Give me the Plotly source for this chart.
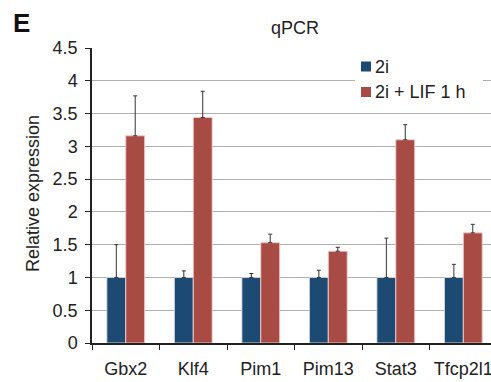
import plotly.graph_objects as go

genes = ["Gbx2", "Klf4", "Pim1", "Pim13", "Stat3", "Tfcp2l1"]
ctrl_vals = [1, 1, 1, 1, 1, 1]
ctrl_err = [0.5, 0.1, 0.06, 0.11, 0.6, 0.2]
lif_vals = [3.16, 3.44, 1.53, 1.40, 3.10, 1.68]
lif_err = [0.61, 0.40, 0.13, 0.06, 0.23, 0.13]
y_ticks = [0, 0.5, 1, 1.5, 2, 2.5, 3, 3.5, 4, 4.5]
series_names = ["2i", "2i + LIF 1 h"]
series_colors = ["#1C4A73", "#A84B45"]

FONT = "Liberation Sans, Arial, sans-serif"
TXT = "#222222"
L, T, W, H = 92, 48, 399, 295


def px(x):
    return (x - L) / W


def py(y):
    return (T + H - y) / H


fig = go.Figure()
fig.add_trace(go.Bar(
    x=genes, y=ctrl_vals, name=series_names[0],
    marker=dict(color=series_colors[0], line=dict(color="rgba(215,220,230,0.9)", width=1)),
    error_y=dict(type="data", array=ctrl_err, arrayminus=[0] * 6, symmetric=False,
                 color="#333333", thickness=1, width=2),
))
fig.add_trace(go.Bar(
    x=genes, y=lif_vals, name=series_names[1],
    marker=dict(color=series_colors[1], line=dict(color="rgba(240,205,205,0.9)", width=1)),
    error_y=dict(type="data", array=lif_err, arrayminus=[0] * 6, symmetric=False,
                 color="#333333", thickness=1, width=2),
))

fig.update_layout(
    width=491, height=382,
    margin=dict(l=L, r=0, t=T, b=382 - T - H, autoexpand=False),
    paper_bgcolor="white", plot_bgcolor="white",
    barmode="group", bargap=0.44, bargroupgap=0,
    font=dict(family=FONT, size=18, color=TXT),
    showlegend=False,
    xaxis=dict(range=[-0.5, 5.41], showline=True, linecolor="#222222", linewidth=1.5,
               ticks="outside", ticklen=5, tickcolor="#222222", tickson="boundaries",
               showgrid=False, automargin=False, ticklabelstandoff=9,
               tickfont=dict(size=18, color=TXT)),
    yaxis=dict(range=[0, 4.5], tickvals=y_ticks,
               ticktext=[("%g" % v) for v in y_ticks],
               showline=True, linecolor="#222222", linewidth=1.5,
               ticks="outside", ticklen=5, tickcolor="#222222",
               showgrid=True, gridcolor="#B0B0B0", gridwidth=1,
               zeroline=False, automargin=False, ticklabelstandoff=4,
               tickfont=dict(size=18, color=TXT)),
)

# legend box (covers gridline like the reference)
fig.add_shape(type="rect", xref="paper", yref="paper", x0=px(355), x1=px(483),
              y0=py(104), y1=py(56), fillcolor="white", line=dict(width=0), layer="above")
for i, (name, col) in enumerate(zip(series_names, series_colors)):
    cy = 66.5 + 25.5 * i
    fig.add_shape(type="rect", xref="paper", yref="paper", x0=px(361), x1=px(371),
                  y0=py(cy + 5), y1=py(cy - 5), fillcolor=col, line=dict(width=0),
                  layer="above")
    fig.add_annotation(text=name, xref="paper", yref="paper", x=px(373), y=py(cy),
                       xanchor="left", yanchor="middle", showarrow=False,
                       font=dict(size=18, color=TXT))

fig.add_annotation(text="Relative expression", xref="paper", yref="paper",
                   x=px(33), y=py(194), xanchor="center", yanchor="middle",
                   textangle=-90, showarrow=False, font=dict(size=18, color=TXT))
fig.add_annotation(text="qPCR", xref="paper", yref="paper", x=px(295),
                   y=py(28), xanchor="center", yanchor="middle",
                   showarrow=False, font=dict(size=18, color=TXT))
fig.add_annotation(text="<b>E</b>", xref="paper", yref="paper", x=px(11),
                   y=py(23), xanchor="left", yanchor="middle",
                   showarrow=False, font=dict(size=26, color="#111111"))
fig.write_html("out.html", config={"displayModeBar": False},
               post_script="document.body.style.margin='0';document.body.style.overflow='hidden';")
